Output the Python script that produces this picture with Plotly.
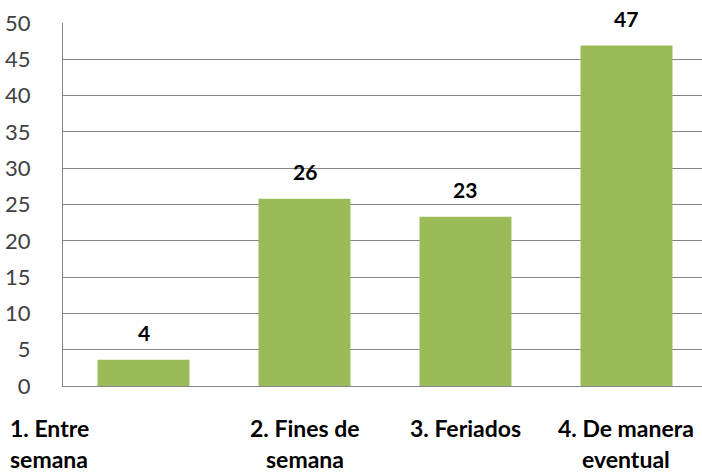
import plotly.graph_objects as go

categories = ["1. Entre<br>semana", "2. Fines de<br>semana", "3. Feriados", "4. De manera<br>eventual"]
values = [3.6, 25.8, 23.3, 46.9]
value_labels = ["4", "26", "23", "47"]
y_ticks = [0, 5, 10, 15, 20, 25, 30, 35, 40, 45, 50]

BAR = "#9BBB59"
FONT = "Lato"

xs = list(range(len(categories)))
fig = go.Figure(go.Bar(x=xs, y=values, marker=dict(color=BAR, line=dict(width=0)), width=0.571))

for i, (v, t) in enumerate(zip(values, value_labels)):
    fig.add_annotation(x=i, y=v, xref="x", yref="y", text="<b>%s</b>" % t, showarrow=False,
                       yanchor="middle", yshift=27, font=dict(family=FONT, size=21, color="#000000"))

for i, c in enumerate(categories):
    for j, line in enumerate(c.split("<br>")):
        kw = dict(xanchor="left", align="left", xshift=-136) if i == 0 else dict(xanchor="center", align="center")
        fig.add_annotation(x=i, y=0, xref="x", yref="y", text="<b>%s</b>" % line, showarrow=False,
                           yanchor="middle", yshift=-42 - 31 * j,
                           font=dict(family=FONT, size=23, color="#000000"), **kw)

fig.update_layout(
    width=702, height=472,
    margin=dict(l=63, r=0, t=23, b=86, autoexpand=False),
    paper_bgcolor="white", plot_bgcolor="white",
    showlegend=False,
    bargap=0.429,
)
fig.update_xaxes(range=[-0.5, 3.469], showticklabels=False, showgrid=False, zeroline=False,
                 showline=True, linecolor="#868686", linewidth=1, ticks="", automargin=False)
fig.update_yaxes(range=[0, 50], tickvals=y_ticks, ticktext=[str(t) for t in y_ticks],
                 showgrid=True, gridcolor="#868686", gridwidth=1, zeroline=False,
                 showline=True, linecolor="#868686", linewidth=1, ticks="", automargin=False,
                 ticklabelstandoff=27, tickfont=dict(family=FONT, size=22, color="#404040"))

fig.write_html("out.html", config={"displayModeBar": False},
               post_script="document.body.style.margin='0px';")
